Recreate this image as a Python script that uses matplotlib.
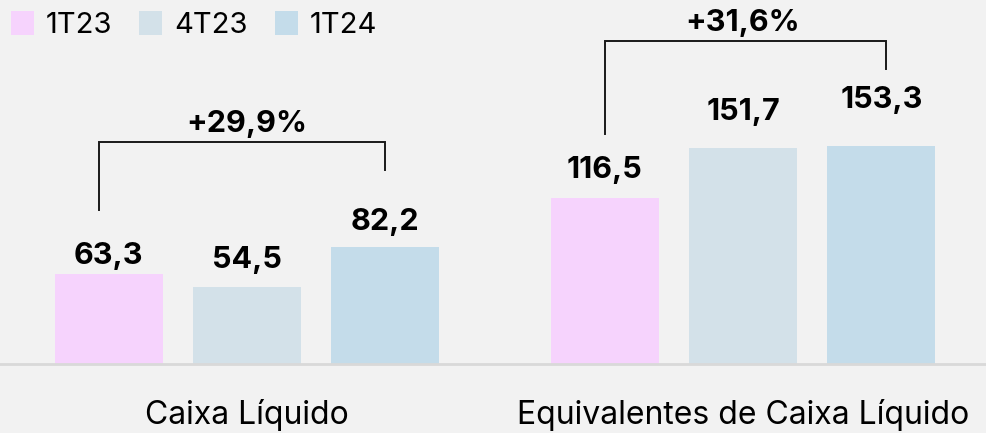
import matplotlib

matplotlib.use("Agg")
import matplotlib.pyplot as plt
import numpy as np
from matplotlib.patches import Patch

plt.rcParams["font.family"] = ["Inter", "DejaVu Sans"]

# values (R$ mi)
categories = ["Caixa Líquido", "Equivalentes de Caixa Líquido"]
periods = ["1T23", "4T23", "1T24"]
val_1t23 = [63.3, 116.5]
val_4t23 = [54.5, 151.7]
val_1t24 = [82.2, 153.3]
growth = ["+29,9%", "+31,6%"]

colors = ["#f6d3fd", "#d3e1e9", "#c4dcea"]
bg = "#f2f2f2"
label_pad = [[3, 10], [9, 16], [8, 23]]  # points above each bar, per series

fig = plt.figure(figsize=(9.86, 4.33), dpi=100, facecolor=bg)
ax = fig.add_axes([0, 69 / 433, 1, 364 / 433])
ax.set_facecolor(bg)

x = np.arange(len(categories))
width = 0.218
pitch = 0.279
series = [val_1t23, val_4t23, val_1t24]
for k, (vals, color) in enumerate(zip(series, colors)):
    xs = x + (k - 1) * pitch
    ax.bar(xs, vals, width=width, color=color, zorder=2)
    for i, (xi, v) in enumerate(zip(xs, vals)):
        ax.annotate(f"{v:.1f}".replace(".", ","), (xi, v), xytext=(0, label_pad[k][i]),
                    textcoords="offset points", ha="center", va="bottom",
                    fontsize=22, fontweight="bold", color="black")

# growth brackets from 1T23 to 1T24
for i, g in enumerate(growth):
    left_x = x[i] - pitch - (0.02 if i == 0 else 0.0)
    right_x = x[i] + pitch + (0.0 if i == 0 else 0.01)
    left_y = val_1t23[i] + 45
    right_y = val_1t24[i] + 54
    top = max(val_1t23[i], val_4t23[i], val_1t24[i]) + 74
    ax.plot([left_x, left_x, right_x, right_x], [left_y, top, top, right_y],
            color="#1a1a1a", lw=1.4, solid_joinstyle="miter", zorder=3)
    ax.text(x[i], top + 3, g, ha="center", va="bottom", fontsize=22,
            fontweight="bold", color="black")

ax.set_xlim(-0.498, 1.49)
ax.set_ylim(0, 256)
ax.set_xticks(x)
ax.set_xticklabels(categories, fontsize=23)
ax.tick_params(axis="x", length=0, pad=25)
ax.set_yticks([])
for side in ["top", "left", "right"]:
    ax.spines[side].set_visible(False)
ax.spines["bottom"].set_color("#d9d9d9")
ax.spines["bottom"].set_linewidth(2)

handles = [Patch(facecolor=c, edgecolor="none", label=p) for p, c in zip(periods, colors)]
fig.legend(handles=handles, loc="upper left", bbox_to_anchor=(0.011, 1 - 11 / 433), ncol=3,
           frameon=False, fontsize=21, handlelength=0.78, handleheight=0.88,
           handletextpad=0.4, columnspacing=0.95, borderpad=0, borderaxespad=0)

fig.savefig("out.png", dpi=100, facecolor=bg)
